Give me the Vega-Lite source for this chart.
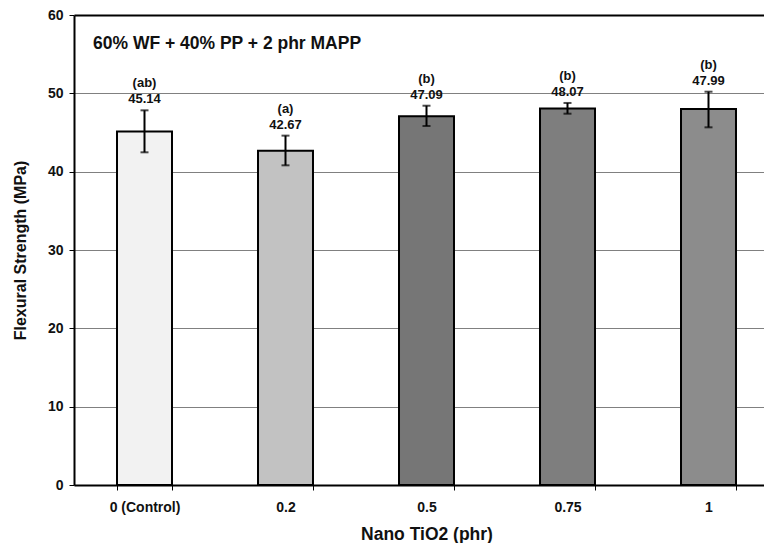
{
  "$schema": "https://vega.github.io/schema/vega-lite/v6.json",
  "width": 690,
  "height": 470,
  "autosize": {"type": "none"},
  "padding": {"left": 74, "top": 15, "right": 0, "bottom": 58},
  "background": "white",
  "config": {
    "view": {"stroke": null},
    "font": "Liberation Sans",
    "axis": {"labelFont": "Liberation Sans", "titleFont": "Liberation Sans"}
  },
  "title": {
    "text": "60% WF + 40% PP + 2 phr MAPP",
    "frame": "group",
    "anchor": "start",
    "orient": "top",
    "offset": -44,
    "dx": 19,
    "fontSize": 17.5,
    "fontWeight": "bold",
    "font": "Liberation Sans",
    "color": "#111111"
  },
  "data": {
    "values": [
      {"loading": "0 (Control)", "strength": 45.14, "lower": 42.47, "upper": 47.83, "group": "(ab)"},
      {"loading": "0.2", "strength": 42.67, "lower": 40.81, "upper": 44.6, "group": "(a)"},
      {"loading": "0.5", "strength": 47.09, "lower": 45.83, "upper": 48.42, "group": "(b)"},
      {"loading": "0.75", "strength": 48.07, "lower": 47.4, "upper": 48.77, "group": "(b)"},
      {"loading": "1", "strength": 47.99, "lower": 45.66, "upper": 50.21, "group": "(b)"}
    ]
  },
  "encoding": {
    "x": {
      "field": "loading",
      "type": "nominal",
      "sort": null,
      "scale": {"range": [0, 705], "paddingInner": 0.61, "paddingOuter": 0.305},
      "axis": {
        "title": "Nano TiO2 (phr)",
        "labelAngle": 0,
        "labelFontSize": 14,
        "labelFontWeight": "bold",
        "labelColor": "#111111",
        "labelPadding": 10,
        "titleFontSize": 17.5,
        "titleFontWeight": "bold",
        "titleColor": "#111111",
        "titlePadding": 11,
        "titleX": 352.5,
        "domainColor": "#000000",
        "domainWidth": 2,
        "tickColor": "#000000",
        "tickWidth": 1,
        "tickSize": 5,
        "tickBand": "extent",
        "grid": false
      }
    }
  },
  "layer": [
    {
      "mark": {"type": "bar", "stroke": "#000000", "strokeWidth": 2},
      "encoding": {
        "y": {
          "field": "strength",
          "type": "quantitative",
          "scale": {"domain": [0, 60], "nice": false},
          "axis": {
            "title": "Flexural Strength (MPa)",
            "values": [0, 10, 20, 30, 40, 50, 60],
            "labelFontSize": 14,
            "labelFontWeight": "bold",
            "labelColor": "#111111",
            "labelPadding": 6,
            "labelFlush": false,
            "titleFontSize": 16,
            "titleFontWeight": "bold",
            "titleColor": "#111111",
            "titlePadding": 19,
            "domainColor": "#000000",
            "domainWidth": 2,
            "tickColor": "#000000",
            "tickWidth": 1,
            "tickSize": 5,
            "grid": true,
            "gridColor": {"condition": {"test": "datum.value === 60", "value": "#000000"}, "value": "#808080"},
            "gridWidth": {"condition": {"test": "datum.value === 60", "value": 2}, "value": 1}
          }
        },
        "fill": {
          "field": "loading",
          "type": "nominal",
          "sort": null,
          "scale": {
            "domain": ["0 (Control)", "0.2", "0.5", "0.75", "1"],
            "range": ["#f2f2f2", "#c2c2c2", "#767676", "#7e7e7e", "#8c8c8c"]
          },
          "legend": null
        }
      }
    },
    {
      "mark": {"type": "rule", "color": "#000000", "strokeWidth": 2},
      "encoding": {
        "y": {"field": "lower", "type": "quantitative"},
        "y2": {"field": "upper"}
      }
    },
    {
      "mark": {"type": "tick", "color": "#000000", "thickness": 2, "size": 8, "orient": "horizontal"},
      "encoding": {"y": {"field": "upper", "type": "quantitative"}}
    },
    {
      "mark": {"type": "tick", "color": "#000000", "thickness": 2, "size": 8, "orient": "horizontal"},
      "encoding": {"y": {"field": "lower", "type": "quantitative"}}
    },
    {
      "mark": {"type": "text", "dy": -11, "fontSize": 13, "fontWeight": "bold", "color": "#111111", "baseline": "middle"},
      "encoding": {
        "y": {"field": "upper", "type": "quantitative"},
        "text": {"field": "strength", "type": "quantitative", "format": ".2f"}
      }
    },
    {
      "mark": {"type": "text", "dy": -27, "fontSize": 13, "fontWeight": "bold", "color": "#111111", "baseline": "middle"},
      "encoding": {
        "y": {"field": "upper", "type": "quantitative"},
        "text": {"field": "group", "type": "nominal"}
      }
    }
  ]
}
